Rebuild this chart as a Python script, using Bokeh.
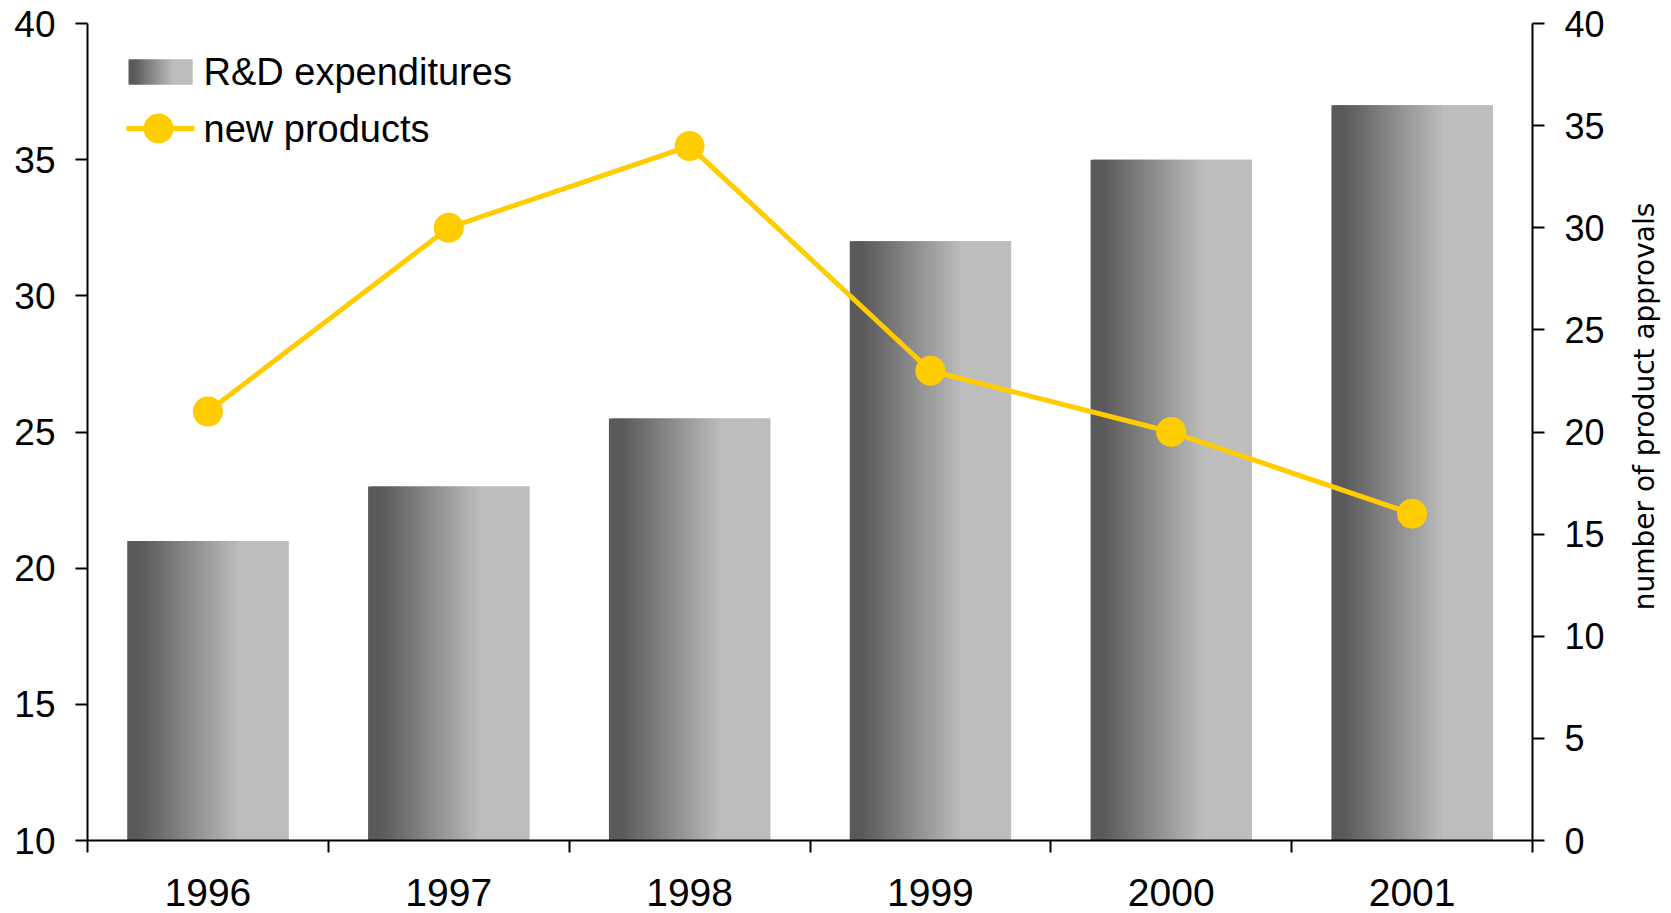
import math

from bokeh.plotting import figure
from bokeh.layouts import row
from bokeh.models import Range1d, LinearAxis, FixedTicker
from bokeh.core.properties import value
from bokeh.embed import file_html
from bokeh.resources import INLINE

# R&D spending (left axis) and number of new product approvals (right axis)
years = ["1996", "1997", "1998", "1999", "2000", "2001"]
rd_expenditures = [21, 23, 25.5, 32, 35, 37]
new_products = [21, 30, 34, 23, 20, 16]

left_ticks = [10, 15, 20, 25, 30, 35, 40]
right_ticks = [0, 5, 10, 15, 20, 25, 30, 35, 40]
right_title = "number of product approvals"

FONT = "Liberation Sans"
GOLD = "#FFCC00"
BAR_WIDTH = 0.67
N_STRIPS = 60
FRAME_W, FRAME_H = 1445, 817
MAIN_W, TITLE_W, HEIGHT = 1630, 41, 913


def shade(t):
    """Grey level for a horizontal gradient: dark on the left, light on the right."""
    s = min(max((t - 0.08) / 0.62, 0.0), 1.0)
    g = int(round(90 + (189 - 90) * s))
    return "#%02x%02x%02x" % (g, g, g)


def strips(x_left, x_right):
    """Overlapping strip edges so the gradient shows no seams."""
    w = (x_right - x_left) / N_STRIPS
    lefts = [x_left + k * w for k in range(N_STRIPS)]
    rights = [min(x_left + (k + 2) * w, x_right) for k in range(N_STRIPS)]
    colors = [shade((k + 0.5) / N_STRIPS) for k in range(N_STRIPS)]
    return lefts, rights, colors


p = figure(
    width=MAIN_W, height=HEIGHT,
    x_range=Range1d(0.5, len(years) + 0.5), y_range=Range1d(10, 40),
    output_backend="svg", toolbar_location=None,
    min_border_left=87, min_border_right=MAIN_W - 87 - FRAME_W,
    min_border_top=23, min_border_bottom=73,
)
p.outline_line_color = None
p.xgrid.visible = False
p.ygrid.visible = False
p.background_fill_color = "white"
p.border_fill_color = "white"

# pixel-like ranges for the legend
p.extra_y_ranges = {"approvals": Range1d(0, 40), "py": Range1d(0, FRAME_H)}
p.extra_x_ranges = {"px": Range1d(0, FRAME_W)}

# gradient bars built from thin vertical strips
ql, qr, qt, qc = [], [], [], []
for i, v in enumerate(rd_expenditures):
    centre = i + 1
    l, r, c = strips(centre - BAR_WIDTH / 2, centre + BAR_WIDTH / 2)
    ql += l
    qr += r
    qc += c
    qt += [v] * N_STRIPS
p.quad(left=ql, right=qr, top=qt, bottom=p.y_range.start,
       fill_color=qc, line_color=None)

# new products line on the secondary axis
xs = [i + 1 for i in range(len(years))]
p.line(xs, new_products, y_range_name="approvals", line_color=GOLD, line_width=5)
p.scatter(xs, new_products, y_range_name="approvals", size=30,
          fill_color=GOLD, line_color=None)

# x axis: year labels centred, tick marks between categories
xa = p.xaxis[0]
xa.ticker = FixedTicker(ticks=xs, minor_ticks=[i + 0.5 for i in range(len(years) + 1)])
xa.major_label_overrides = {x: y for x, y in zip(xs, years)}
xa.major_tick_out = 0
xa.major_tick_in = 0
xa.minor_tick_out = 12
xa.minor_tick_in = 0
xa.minor_tick_line_color = "black"
xa.minor_tick_line_width = 2
xa.axis_line_width = 2
xa.axis_line_color = "black"
xa.major_label_text_font = FONT
xa.major_label_text_font_size = "39px"
xa.major_label_text_color = "black"
xa.major_label_standoff = 26

# left axis
ya = p.yaxis[0]
ya.ticker = FixedTicker(ticks=left_ticks)
ya.major_tick_out = 12
ya.major_tick_in = 0
ya.minor_tick_out = 0
ya.minor_tick_in = 0
ya.major_tick_line_width = 2
ya.axis_line_width = 2
ya.axis_line_color = "black"
ya.major_label_text_font = FONT
ya.major_label_text_font_size = "37px"
ya.major_label_text_color = "black"
ya.major_label_standoff = 20

# right axis
ra = LinearAxis(y_range_name="approvals", ticker=FixedTicker(ticks=right_ticks))
ra.major_tick_out = 12
ra.major_tick_in = 0
ra.minor_tick_out = 0
ra.minor_tick_in = 0
ra.major_tick_line_width = 2
ra.axis_line_width = 2
ra.axis_line_color = "black"
ra.major_label_text_font = FONT
ra.major_label_text_font_size = "36px"
ra.major_label_text_color = "black"
ra.major_label_standoff = 20
p.add_layout(ra, "right")

# legend, drawn in frame pixel coordinates
ll, lr, lc = strips(41, 105)
p.quad(left=ll, right=lr, top=781, bottom=756, fill_color=lc, line_color=None,
       x_range_name="px", y_range_name="py")
p.line([39, 107], [712, 712], line_color=GOLD, line_width=5,
       x_range_name="px", y_range_name="py")
p.scatter([71], [712], size=30, fill_color=GOLD, line_color=None,
          x_range_name="px", y_range_name="py")
p.text(x=[116, 116], y=[769, 712], text=["R&D expenditures", "new products"],
       text_font=value(FONT), text_font_size="38px", text_color="black",
       text_baseline="middle", text_align="left",
       x_range_name="px", y_range_name="py")

# narrow strip to the right holding the rotated title of the right axis
t = figure(
    width=TITLE_W, height=HEIGHT,
    x_range=Range1d(0, TITLE_W), y_range=Range1d(0, HEIGHT),
    x_axis_type=None, y_axis_type=None,
    output_backend="svg", toolbar_location=None,
    min_border=0, min_border_left=0, min_border_right=0,
    min_border_top=0, min_border_bottom=0,
)
t.outline_line_color = None
t.xgrid.visible = False
t.ygrid.visible = False
t.background_fill_color = "white"
t.border_fill_color = "white"
t.text(x=[14], y=[HEIGHT - 428], text=[right_title], angle=math.pi / 2,
       text_font=value("DejaVu Sans"), text_font_size="28px", text_color="black",
       text_align="center", text_baseline="middle")

layout = row(p, t, spacing=0)
open("out.html", "w").write(file_html(layout, INLINE))
